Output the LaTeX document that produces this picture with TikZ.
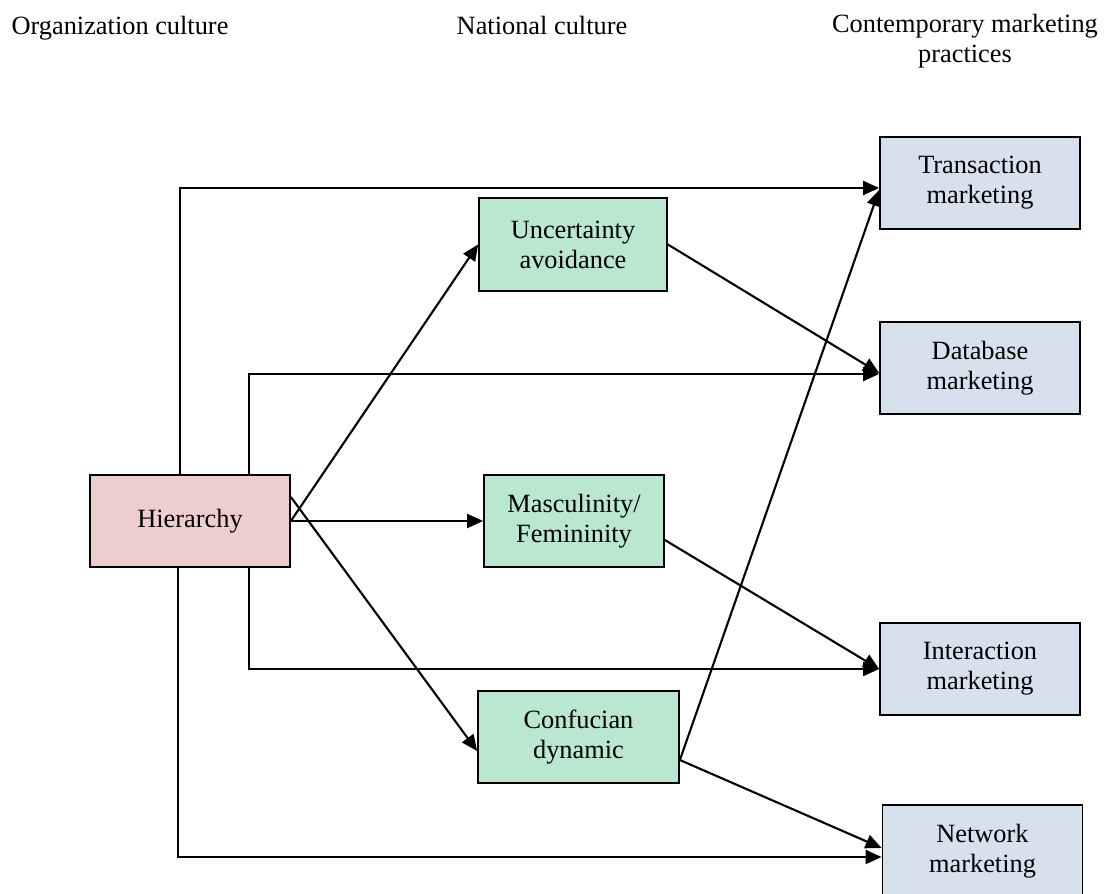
\documentclass[tikz,border=0pt]{standalone}
\usepackage{fontspec}
\setmainfont{Liberation Serif}
\usetikzlibrary{arrows.meta, positioning}
\definecolor{rosebox}{HTML}{EDCDCD}
\definecolor{mintbox}{HTML}{B9E7CF}
\definecolor{steelbox}{HTML}{D6E1ED}

\begin{document}
\begin{tikzpicture}[%
    >= { Triangle[length=0.32cm, width=0.28cm] },
    on grid,
    every node/.style = {font=\fontsize{15}{17}\selectfont},
    link/.style = {->, line width=1.2pt},
    box/.style = {%
      draw,
      line width = 1pt,
      align = center,
      minimum width = 4cm,
      minimum height = 1.84cm,
      inner sep = 0pt }
  ]

\useasboundingbox (0,0) rectangle (22.18,-17.88);

% column headings
\node[anchor=base] (OC) at (2.4,-0.70) {Organization culture};
\node[anchor=base] (NC) at (10.84,-0.70) {National culture};
\node[align=center, inner sep=0pt] (CM) at (19.3,-0.82) {Contemporary marketing\\practices};

% boxes
\node[box, fill=rosebox] (H) at (3.8,-10.42) {Hierarchy};
\node[box, fill=mintbox, minimum width=3.76cm, minimum height=1.86cm] (U) [above right=5.53cm and 7.66cm of H] {Uncertainty\\avoidance};
\node[box, fill=mintbox, minimum width=3.6cm] (M) [right=7.68cm of H] {Masculinity/\\Femininity};
\node[box, fill=mintbox, minimum width=4.02cm] (C) [below right=4.32cm and 7.77cm of H] {Confucian\\dynamic};
\node[box, fill=steelbox] (T) [above right=6.76cm and 15.8cm of H] {Transaction\\marketing};
\node[box, fill=steelbox] (D) [below=3.7cm of T] {Database\\marketing};
\node[box, fill=steelbox] (I) [below=6.02cm of D] {Interaction\\marketing};
\node[box, fill=steelbox] (N) [below right=3.64cm and 0.05cm of I] {Network\\marketing};

% direct links
\draw[link] ([xshift=-0.2cm]H.north) |- ([yshift=-0.1cm]T.west);
\draw[link] ([xshift=1.18cm]H.north) |- ([yshift=-0.12cm]D.west);
\draw[link] ([xshift=1.18cm]H.south) |- (I.west);
\draw[link] ([xshift=-0.24cm]H.south) |- ([yshift=-0.12cm]N.west);

% through national culture
\draw[link] (H.east) -- (H.east -| M.west);
\draw[link] (H.east) -- (U.west);
\draw[link] ([yshift=0.48cm]H.east) -- ([yshift=-0.28cm]C.west);
\draw[link] (U.east) -- ([yshift=-0.1cm]D.west);
\draw[link] ([yshift=-0.38cm]M.east) -- (I.west);
\draw[link] ([yshift=-0.46cm]C.east) -- ([yshift=-0.14cm]T.west);
\draw[link] ([yshift=-0.46cm]C.east) -- ([yshift=0.06cm]N.west);

\end{tikzpicture}
\end{document}
